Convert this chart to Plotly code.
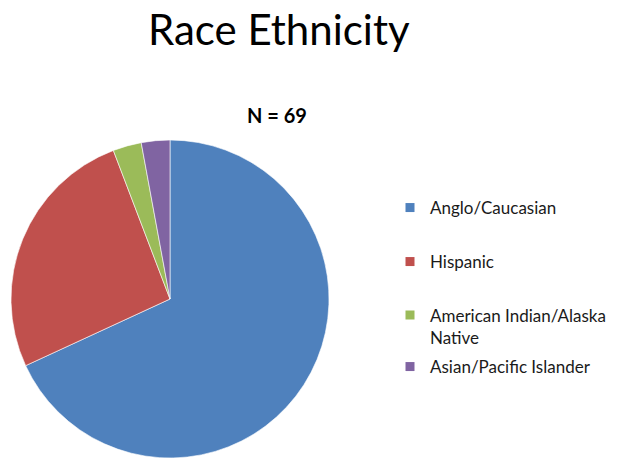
import plotly.graph_objects as go

categories = ["Anglo/Caucasian", "Hispanic", "American Indian/Alaska Native", "Asian/Pacific Islander"]
legend_labels = ["Anglo/Caucasian", "Hispanic", "American Indian/Alaska<br>Native", "Asian/Pacific Islander"]
counts = [47, 18, 2, 2]
colors = ["#4F81BD", "#C0504D", "#9BBB59", "#8064A2"]
title_text = "Race Ethnicity"
subtitle_text = "N = 69"

W, H = 619, 458
FONT = "Lato"

fig = go.Figure()
fig.add_trace(go.Pie(
    labels=categories, values=counts, sort=False, direction="clockwise", rotation=0,
    marker=dict(colors=colors, line=dict(color="white", width=0.6)),
    textinfo="none", showlegend=False, hoverinfo="label+value",
    domain=dict(x=[11 / W, 329 / W], y=[0, 1 - 140 / H]),
))

legend_y = [208, 262, 326.5, 367]
legend_names = ["legend", "legend2", "legend3", "legend4"]
layout_legends = {}
for i, (lab, col) in enumerate(zip(legend_labels, colors)):
    fig.add_trace(go.Scatter(
        x=[None], y=[None], mode="markers", name=lab,
        marker=dict(symbol="square", size=9, color=col),
        legend=legend_names[i], showlegend=True, hoverinfo="skip",
    ))
    layout_legends[legend_names[i]] = dict(
        x=(430 - 40) / W, xanchor="left", y=1 - legend_y[i] / H, yanchor="middle",
        bgcolor="rgba(0,0,0,0)", borderwidth=0, valign="top",
        font=dict(family=FONT, size=17, color="#1a1a1a"),
    )

fig.update_layout(
    width=W, height=H, margin=dict(l=0, r=0, t=0, b=0),
    paper_bgcolor="white", plot_bgcolor="white",
    xaxis=dict(visible=False), yaxis=dict(visible=False),
    annotations=[
        dict(text=title_text, x=279 / W, y=1 - 29 / H, xref="paper", yref="paper",
             xanchor="center", yanchor="middle", showarrow=False,
             font=dict(family=FONT, size=42, color="black")),
        dict(text="<b>" + subtitle_text + "</b>", x=277 / W, y=1 - 115 / H, xref="paper", yref="paper",
             xanchor="center", yanchor="middle", showarrow=False,
             font=dict(family=FONT, size=20, color="black")),
    ],
    **layout_legends,
)

fig.write_html("out.html")
